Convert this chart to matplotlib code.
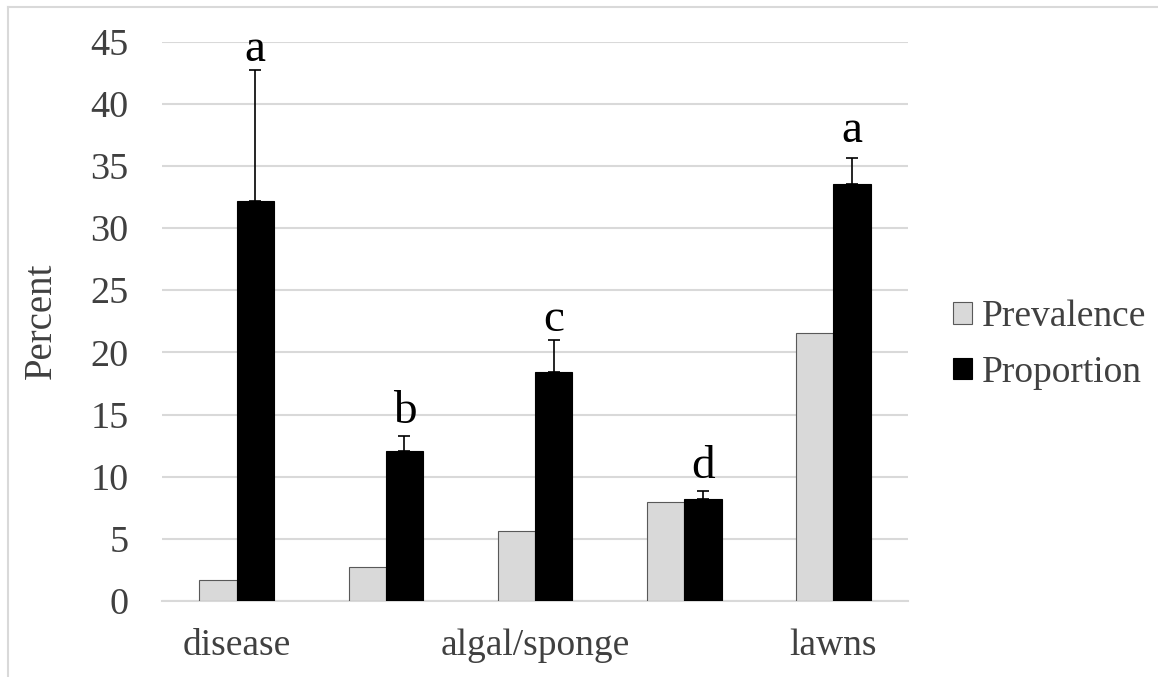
import matplotlib
matplotlib.use("Agg")
import matplotlib.pyplot as plt
import numpy as np
from matplotlib.lines import Line2D

categories = ["disease", "", "algal/sponge", "", "lawns"]
prevalence = [1.7, 2.7, 5.65, 7.95, 21.55]
proportion = [32.2, 12.1, 18.4, 8.2, 33.5]
proportion_err = [10.5, 1.2, 2.6, 0.65, 2.1]
letters = ["a", "b", "c", "d", "a"]
letter_y = [43.4, 14.3, 21.7, 9.9, 36.95]
yticks = [0, 5, 10, 15, 20, 25, 30, 35, 40, 45]

plt.rcParams['font.family'] = ['Liberation Serif', 'DejaVu Serif']
txt = '#404040'
grid = '#d9d9d9'

fig = plt.figure(figsize=(11.58, 6.77), dpi=100)
ax = fig.add_axes([162/1158, 1-601/677, (908-162)/1158, (601-41.5)/677])

x = np.arange(len(categories))
w = 0.25
ax.bar(x - w/2, prevalence, w, color='#d9d9d9', edgecolor='#595959', linewidth=0.8,
       label='Prevalence', zorder=3)
ax.bar(x + w/2, proportion, w, color='black', edgecolor='black', linewidth=0.8,
       label='Proportion', zorder=3)
ax.errorbar(x + w/2, proportion, yerr=[np.zeros(len(x)), proportion_err], fmt='none',
            ecolor='black', elinewidth=1.2, capsize=4.5, capthick=1.2, zorder=4)
for xi, ly, l in zip(x, letter_y, letters):
    ax.text(xi + w/2, ly, l, ha='center', va='baseline', fontsize=34, color='black')

ax.set_xlim(-0.5, len(categories) - 0.5)
ax.set_ylim(0, 45)
ax.set_yticks(yticks)
ax.set_yticklabels([str(t) for t in yticks])
ax.set_xticks(x)
ax.set_xticklabels(categories)
ax.tick_params(axis='y', length=0, pad=24, labelsize=27.5, labelcolor=txt)
ax.tick_params(axis='x', length=0, pad=20, labelsize=27, labelcolor=txt)
ax.yaxis.grid(True, color=grid, linewidth=1.5, zorder=0)
ax.set_axisbelow(True)
for s in ['top', 'right', 'left']:
    ax.spines[s].set_visible(False)
ax.spines['bottom'].set_color(grid)
ax.spines['bottom'].set_linewidth(1.5)
ax.set_ylabel('Percent', fontsize=28, color=txt, labelpad=22)

leg = ax.legend(loc='center left', bbox_to_anchor=(1.0, 0.458), frameon=False,
                fontsize=27, handlelength=0.5, handleheight=0.5, handletextpad=0.27,
                labelspacing=0.55, labelcolor=txt, borderaxespad=0.8)

fig.add_artist(Line2D([8/1158, 1.0], [1-7/677, 1-7/677], color=grid, linewidth=1.5,
                      transform=fig.transFigure))
fig.add_artist(Line2D([8/1158, 8/1158], [0, 1-7/677], color=grid, linewidth=1.5,
                      transform=fig.transFigure))

fig.savefig('out.png', dpi=100)
